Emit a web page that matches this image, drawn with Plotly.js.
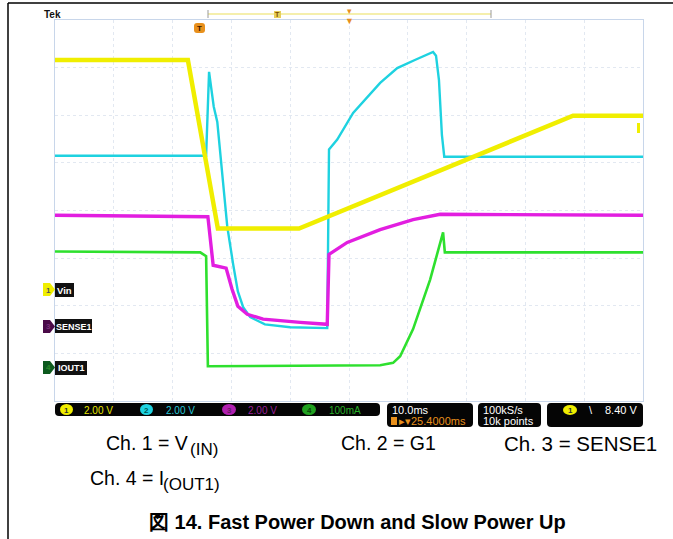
<!DOCTYPE html>
<html><head><meta charset="utf-8">
<script src="https://cdn.plot.ly/plotly-3.0.1.min.js"></script>
<style>html,body{margin:0;padding:0;background:#fff}#chart{width:673px;height:539px}</style>
</head><body><div id="chart"></div>
<script>
// Time in ms (10 ms/div, 10 divisions), amplitude in screen divisions (8 divisions)
const vinTime = [0, 22.6, 27.7, 41.5, 88.1, 100];
const vinDiv  = [7.16, 7.16, 3.62, 3.62, 5.99, 5.99];

const g1Time = [0, 25.7, 26.2, 27.0, 27.6, 29.3, 30.3, 31.1, 32.0, 33.2, 35.7, 40.0, 46.3, 46.6, 48.0, 50.7, 55.3, 58.2, 61.2, 64.3, 64.8, 65.3, 65.8, 66.2, 100];
const g1Div  = [5.15, 5.15, 6.91, 6.18, 5.86, 3.66, 2.87, 2.30, 1.97, 1.76, 1.61, 1.55, 1.53, 5.28, 5.49, 6.05, 6.68, 6.99, 7.16, 7.33, 7.25, 6.74, 5.59, 5.13, 5.13];

const sense1Time = [0, 26.0, 26.9, 29.1, 30.1, 31.1, 32.7, 35.4, 41.7, 46.3, 46.6, 49.7, 55.3, 60.9, 65.5, 100];
const sense1Div  = [3.90, 3.87, 2.85, 2.79, 2.35, 1.99, 1.82, 1.72, 1.65, 1.61, 3.08, 3.33, 3.60, 3.81, 3.92, 3.90];

const iout1Time = [0, 24.7, 25.7, 26.0, 55.3, 57.5, 58.7, 60.9, 63.8, 66.0, 66.3, 100];
const iout1Div  = [3.14, 3.12, 3.04, 0.73, 0.75, 0.80, 0.94, 1.51, 2.55, 3.54, 3.12, 3.12];

const channelScales = ["2.00 V", "2.00 V", "2.00 V", "100mA"];
const channelLabels = ["Vin", "SENSE1", "IOUT1"];
const timebase = "10.0ms";
const triggerPos = "25.4000ms";
const sampleRate = "100kS/s";
const recordLen = "10k points";
const trigLevel = "8.40 V";

const W = 673, H = 539;
const X0 = 55, X1 = 643, Y0 = 20, Y1 = 401;
const px = x => x / W;
const py = y => 1 - y / H;

const COL = {ch1: '#f0ee00', ch2: '#1ed2e0', ch3: '#e21ee0', ch4: '#2ee02e', orange: '#e8901c'};
const SFONT = 'Liberation Sans, Arial, sans-serif';

function trace(x, y, color, width) {
  return {x: x, y: y, type: 'scatter', mode: 'lines', line: {color: color, width: width}, hoverinfo: 'skip'};
}
const data = [
  trace(iout1Time, iout1Div, COL.ch4, 2.6),
  trace(g1Time, g1Div, COL.ch2, 2.4),
  trace(sense1Time, sense1Div, COL.ch3, 3.4),
  trace(vinTime, vinDiv, COL.ch1, 4.5)
];

function rbox(x0, y0, x1, y1, r, color) {
  const rx = r / W, ry = r / H;
  const a = px(x0), b = px(x1), t = py(y0), d = py(y1);
  const p = `M${a+rx},${t} L${b-rx},${t} Q${b},${t} ${b},${t-ry} L${b},${d+ry} Q${b},${d} ${b-rx},${d} L${a+rx},${d} Q${a},${d} ${a},${d+ry} L${a},${t-ry} Q${a},${t} ${a+rx},${t} Z`;
  return {type: 'path', xref: 'paper', yref: 'paper', path: p, fillcolor: color, line: {width: 0}};
}
function ell(x0, y0, x1, y1, color) {
  return {type: 'circle', xref: 'paper', yref: 'paper', x0: px(x0), x1: px(x1), y0: py(y1), y1: py(y0), fillcolor: color, line: {width: 0}};
}
function rect(x0, y0, x1, y1, color) {
  return {type: 'rect', xref: 'paper', yref: 'paper', x0: px(x0), x1: px(x1), y0: py(y1), y1: py(y0), fillcolor: color, line: {width: 0}};
}
function line(x0, y0, x1, y1, color, w, dash) {
  return {type: 'line', xref: 'paper', yref: 'paper', x0: px(x0), x1: px(x1), y0: py(y0), y1: py(y1), line: {color: color, width: w, dash: dash || 'solid'}};
}
function badge(x0, y0, x1, y1, color) {
  const m = (y0 + y1) / 2;
  const p = `M${px(x0)},${py(y0)} L${px(x1-5)},${py(y0)} L${px(x1)},${py(m)} L${px(x1-5)},${py(y1)} L${px(x0)},${py(y1)} Z`;
  return {type: 'path', xref: 'paper', yref: 'paper', path: p, fillcolor: color, line: {width: 0}};
}
function txt(x, y, text, size, color, xa, opt) {
  return Object.assign({xref: 'paper', yref: 'paper', x: px(x), y: py(y), text: text, showarrow: false,
    xanchor: xa || 'left', yanchor: 'middle', font: {family: SFONT, size: size, color: color}, borderpad: 0}, opt || {});
}

const shapes = [
  // page frame
  line(8, 3, 673, 3, '#000', 1.5),
  line(8, 3, 8, 539, '#000', 1.5),
  // top bar
  line(208, 14, 491, 14, '#ece05a', 1.2),
  line(208, 10, 208, 18, '#999', 1),
  line(491, 10, 491, 18, '#999', 1),
  rect(274, 11, 281, 18, '#e6cf5a'),
  // status bar
  rbox(55, 403, 380, 416, 4, '#050505'),
  rbox(387, 403, 473, 427, 4, '#050505'),
  rbox(478, 403, 541, 427, 4, '#050505'),
  rbox(547, 403, 643, 427, 4, '#050505'),
  ell(60, 404, 73, 415, COL.ch1),
  ell(140, 404, 153, 415, COL.ch2),
  ell(222, 404, 236, 415, '#b020b0'),
  ell(302, 404, 316, 415, '#20a020'),
  ell(563, 405, 577, 415, COL.ch1),
  rect(391, 417, 397, 425, COL.orange),
  // left labels
  badge(43, 283, 55, 296, COL.ch1),
  rect(55, 283, 74, 297, '#111'),
  badge(43, 320, 55, 333, '#4a0a48'),
  rect(55, 319, 92, 333, '#111'),
  badge(43, 361, 55, 374, '#0c5a1e'),
  rect(55, 361, 87, 375, '#111'),
  // trigger markers
  rbox(194, 23, 205, 33, 3, COL.orange),
  rect(637, 123, 640, 133, COL.ch1)
];

const annotations = [
  txt(43, 14, '<b>Tek</b>', 10, '#111'),
  txt(277.5, 14.5, '<b>T</b>', 7, '#7a4a00', 'center'),
  txt(349, 11, '▾', 9, COL.orange, 'center'),
  txt(349, 21, '▼', 9, COL.orange, 'center'),
  txt(199.5, 28, '<b>T</b>', 8, '#3a1a00', 'center'),
  // status bar
  txt(66.5, 410, '<b>1</b>', 8, '#333', 'center'),
  txt(83, 410, channelScales[0], 10, '#e8e600'),
  txt(146.5, 410, '<b>2</b>', 8, '#055', 'center'),
  txt(165, 410, channelScales[1], 10, '#28c8d8'),
  txt(229, 410, '<b>3</b>', 8, '#602060', 'center'),
  txt(247, 410, channelScales[2], 10, '#9a209a'),
  txt(309, 410, '<b>4</b>', 8, '#0a400a', 'center'),
  txt(328, 410, channelScales[3], 10, '#28b028'),
  txt(391, 410, timebase, 11, '#fff'),
  txt(398, 421, '▸▾' + triggerPos, 11, COL.orange),
  txt(482, 410, sampleRate, 11, '#fff'),
  txt(482, 421, recordLen, 11, '#fff'),
  txt(570, 410, '<b>1</b>', 8, '#333', 'center'),
  txt(588, 410, '\\', 11, '#fff'),
  txt(638, 410, trigLevel, 11, '#fff', 'right'),
  // left labels
  txt(48, 290, '<b>1</b>', 8, '#555', 'center'),
  txt(64.5, 290, '<b>' + channelLabels[0] + '</b>', 9.5, '#fff', 'center'),
  txt(48, 326.5, '<b>3</b>', 8, '#7a307a', 'center'),
  txt(73.5, 326.5, '<b>' + channelLabels[1] + '</b>', 9, '#fff', 'center'),
  txt(48, 367.5, '<b>4</b>', 8, '#2a8a2a', 'center'),
  txt(71, 368, '<b>' + channelLabels[2] + '</b>', 9, '#fff', 'center'),
  // channel legend below the screen
  txt(105, 443, 'Ch. 1 = V', 19.5, '#000'),
  txt(189, 449, '(IN)', 17, '#000'),
  txt(340, 443, 'Ch. 2 = G1', 19.5, '#000'),
  txt(503, 443, 'Ch. 3 = SENSE1', 20.5, '#000'),
  txt(89, 478, 'Ch. 4 = I', 19.5, '#000'),
  txt(162, 484, '(OUT1)', 17, '#000'),
  txt(357, 522, '<b>図 14. Fast Power Down and Slow Power Up</b>', 20, '#000', 'center')
];

const axisCommon = {showticklabels: false, ticks: '', zeroline: false, showgrid: true,
  gridcolor: '#e2e8f1', griddash: 'dot', gridwidth: 1, showline: true, mirror: true, linecolor: '#c8d6ea', linewidth: 1, fixedrange: true};

const layout = {
  width: W, height: H, margin: {l: 0, r: 0, t: 0, b: 0},
  paper_bgcolor: '#fff', plot_bgcolor: '#fff', showlegend: false,
  xaxis: Object.assign({}, axisCommon, {range: [0, 100], dtick: 10, tick0: 0, domain: [px(X0), px(X1)]}),
  yaxis: Object.assign({}, axisCommon, {range: [0, 8], dtick: 1, tick0: 0, domain: [py(Y1), py(Y0)]}),
  shapes: shapes, annotations: annotations
};

Plotly.newPlot('chart', data, layout, {staticPlot: true, displayModeBar: false});
</script>
</body></html>
